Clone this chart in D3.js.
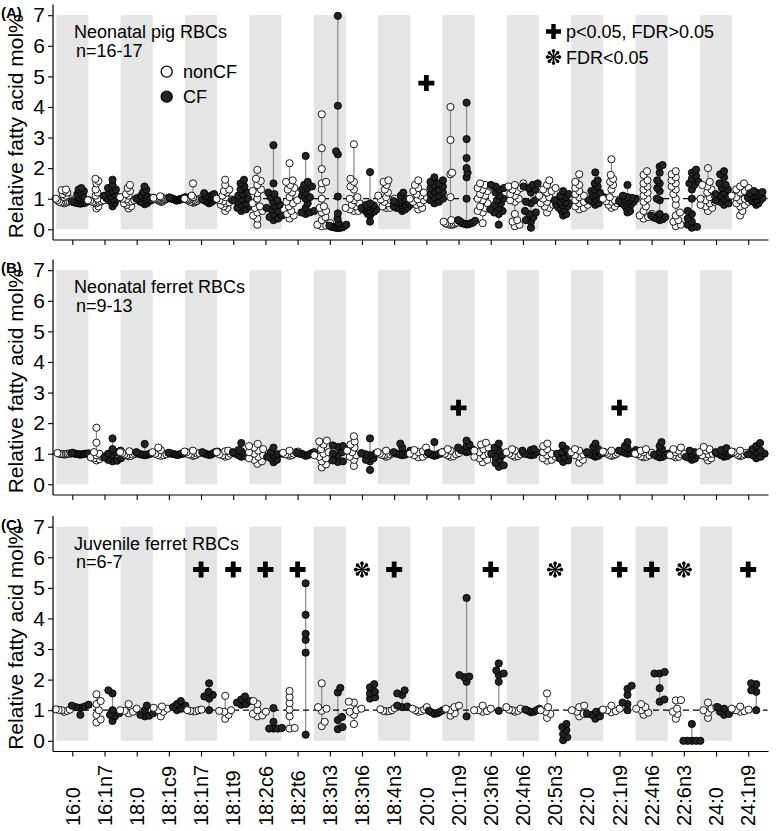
<!DOCTYPE html>
<html><head><meta charset="utf-8">
<script src="https://cdn.jsdelivr.net/npm/d3@7"></script>
<style>body{margin:0;background:#fff} svg{display:block;font-family:"Liberation Sans",Arial,sans-serif}</style>
</head><body><svg id="c" width="778" height="831"></svg>
<script>
const categories = ["16:0","16:1n7","18:0","18:1c9","18:1n7","18:1t9","18:2c6","18:2t6","18:3n3","18:3n6","18:4n3","20:0","20:1n9","20:3n6","20:4n6","20:5n3","22:0","22:1n9","22:4n6","22:6n3","24:0","24:1n9"];
const yTicks = [0,1,2,3,4,5,6,7];
const groups = ["nonCF","CF"];

// Panel A: neonatal pig RBCs
const pigNonCF = [
[1.3,1.28,1.25,1.2,1.15,1.1,1.05,1.0,0.98,0.95,0.92,0.9,0.9,0.88,0.88,0.87,0.85],
[1.65,1.58,1.5,1.3,1.2,1.1,1.0,0.95,0.95,0.93,0.92,0.9,0.9,0.88,0.85,0.75,0.68],
[1.45,1.35,1.25,1.15,1.1,1.05,1.02,1.0,0.98,0.95,0.92,0.9,0.85,0.8,0.75,0.68],
[1.08,1.05,1.04,1.03,1.02,1.0,1.0,0.99,0.98,0.97,0.96,0.95,0.94,0.92,0.9,0.9],
[1.5,1.1,1.05,1.02,1.0,1.0,0.98,0.97,0.96,0.95,0.93,0.92,0.9,0.9,0.88,0.87],
[1.62,1.45,1.3,1.25,1.2,1.1,1.05,1.0,0.98,0.95,0.92,0.88,0.85,0.8,0.75,0.7,0.6],
[1.94,1.65,1.58,1.45,1.3,1.25,1.18,1.0,0.85,0.75,0.7,0.6,0.55,0.45,0.35,0.15],
[2.16,1.6,1.55,1.45,1.35,1.3,1.2,1.05,0.95,0.9,0.85,0.75,0.6,0.5,0.45,0.35],
[3.76,2.65,1.97,1.55,1.5,1.3,1.0,0.75,0.7,0.6,0.55,0.4,0.3,0.2,0.15,0.12,0.1],
[2.78,1.65,1.55,1.4,1.3,1.05,1.0,0.95,0.85,0.8,0.75,0.7,0.65,0.65,0.6,0.6],
[1.6,1.55,1.45,1.3,1.2,1.1,1.05,1.0,0.98,0.95,0.9,0.85,0.8,0.75,0.7,0.7],
[1.6,1.45,1.35,1.25,1.2,1.15,1.1,1.05,1.0,0.98,0.95,0.9,0.85,0.8,0.7,0.65],
[4.0,2.92,1.85,1.8,1.05,0.3,0.28,0.25,0.22,0.2,0.2,0.18,0.17,0.16,0.15,0.15],
[1.5,1.45,1.4,1.35,1.3,1.25,1.15,1.1,1.0,0.95,0.85,0.75,0.7,0.6,0.55,0.2],
[1.5,1.45,1.4,1.35,1.3,1.25,1.15,1.1,1.0,0.95,0.9,0.5,0.3,0.25,0.15,0.1],
[1.6,1.45,1.35,1.3,1.25,1.2,1.1,1.05,1.0,0.95,0.9,0.85,0.8,0.75,0.7,0.55],
[1.8,1.55,1.45,1.35,1.25,1.15,1.1,1.05,1.0,0.95,0.9,0.85,0.8,0.75,0.7,0.65],
[2.29,1.78,1.65,1.55,1.45,1.3,1.05,1.0,0.98,0.95,0.92,0.9,0.85,0.8,0.75,0.7],
[1.9,1.78,1.6,1.5,1.4,1.3,1.2,1.1,1.0,0.9,0.75,0.6,0.5,0.45,0.4,0.35],
[1.9,1.8,1.7,1.6,1.5,1.4,1.3,1.15,1.0,0.8,0.55,0.45,0.3,0.25,0.15,0.1],
[2.0,1.55,1.45,1.4,1.3,1.2,1.1,1.05,1.0,0.95,0.9,0.85,0.8,0.75,0.7,0.6],
[1.5,1.4,1.35,1.3,1.25,1.2,1.1,1.05,1.0,0.95,0.9,0.85,0.8,0.75,0.6,0.45]];
const pigCF = [
[1.35,1.3,1.25,1.2,1.15,1.1,1.05,1.0,0.95,0.92,0.9,0.88,0.87,0.86,0.85,0.85,0.84],
[1.62,1.45,1.35,1.3,1.25,1.2,1.15,1.1,1.08,1.05,1.02,1.0,0.98,0.95,0.9,0.85,0.75],
[1.4,1.3,1.22,1.15,1.1,1.08,1.05,1.03,1.0,1.0,0.98,0.95,0.92,0.9,0.88,0.85,0.82],
[1.05,1.04,1.03,1.02,1.01,1.0,1.0,1.0,0.99,0.99,0.98,0.97,0.96,0.95,0.95,0.94],
[1.18,1.15,1.12,1.1,1.08,1.05,1.03,1.0,1.0,0.98,0.97,0.95,0.93,0.92,0.9,0.88,0.85],
[1.62,1.5,1.4,1.3,1.2,1.15,1.1,1.0,0.98,0.95,0.9,0.85,0.8,0.75,0.7,0.65,0.6],
[2.75,1.5,1.2,1.15,1.05,0.95,0.9,0.8,0.75,0.7,0.65,0.6,0.5,0.45,0.4,0.35,0.3],
[2.4,1.55,1.45,1.4,1.35,1.3,1.2,1.1,1.05,1.0,0.85,0.7,0.6,0.55,0.55,0.5],
[6.98,4.04,2.55,2.45,1.07,0.52,0.35,0.2,0.15,0.12,0.1,0.08,0.07,0.06,0.05,0.05,0.04],
[1.87,0.85,0.8,0.78,0.75,0.72,0.7,0.68,0.65,0.62,0.6,0.58,0.55,0.5,0.45,0.25],
[1.2,1.1,1.0,0.95,0.92,0.9,0.88,0.85,0.82,0.8,0.78,0.75,0.72,0.7,0.68,0.65,0.6],
[1.7,1.6,1.55,1.5,1.45,1.4,1.35,1.3,1.25,1.2,1.15,1.1,1.05,1.0,0.95,0.9,0.85],
[4.14,2.95,2.33,2.0,1.85,1.7,1.0,0.3,0.28,0.25,0.22,0.2,0.2,0.18,0.17,0.16],
[1.45,1.4,1.35,1.3,1.2,1.1,1.0,0.95,0.85,0.8,0.7,0.65,0.6,0.55,0.5,0.15],
[1.5,1.45,1.4,1.35,1.3,1.2,0.95,0.9,0.85,0.6,0.55,0.5,0.4,0.3,0.25,0.05],
[1.25,1.15,1.1,1.05,1.0,0.95,0.9,0.88,0.85,0.8,0.78,0.75,0.7,0.65,0.6,0.5,0.45],
[1.86,1.6,1.5,1.4,1.3,1.25,1.2,1.15,1.1,1.05,1.0,0.98,0.95,0.9,0.85,0.8],
[1.45,1.1,1.05,1.03,1.0,0.98,0.95,0.92,0.9,0.88,0.85,0.82,0.8,0.75,0.7,0.6,0.55],
[2.1,2.05,1.85,1.6,1.5,1.35,1.25,1.0,0.95,0.5,0.45,0.4,0.38,0.35,0.33,0.3],
[1.95,1.85,1.75,1.65,1.55,1.5,1.45,1.3,1.0,0.6,0.5,0.35,0.25,0.15,0.08,0.05],
[1.9,1.8,1.7,1.5,1.45,1.35,1.3,1.2,1.15,1.1,1.05,1.0,0.95,0.9,0.85,0.8],
[1.25,1.22,1.2,1.18,1.15,1.12,1.1,1.08,1.05,1.02,1.0,0.98,0.95,0.92,0.9,0.85,0.8]];

// Panel B: neonatal ferret RBCs
const neoNonCF = [
[1.03,1.02,1.01,1.0,1.0,1.0,0.99,0.99,0.98,0.97],
[1.85,1.36,1.05,1.0,0.95,0.92,0.9,0.88,0.85,0.82,0.78],
[1.08,1.05,1.03,1.02,1.0,0.98,0.97,0.95,0.93,0.92],
[1.2,1.12,1.05,1.02,1.0,0.98,0.96,0.95,0.93],
[1.1,1.07,1.05,1.02,1.0,0.98,0.97,0.95,0.93],
[1.1,1.08,1.05,1.02,1.0,0.98,0.95,0.93,0.9],
[1.32,1.25,1.2,1.15,1.1,1.05,1.0,0.95,0.9,0.85,0.8,0.75,0.67],
[1.1,1.07,1.05,1.03,1.0,0.98,0.97,0.95,0.93],
[1.43,1.4,1.3,1.15,1.05,1.0,0.95,0.9,0.85,0.75,0.65,0.55],
[1.57,1.4,1.3,1.2,1.1,1.05,1.0,0.95,0.9,0.8,0.6],
[1.1,1.05,1.02,1.0,0.98,0.96,0.95,0.93,0.9],
[1.2,1.12,1.08,1.05,1.0,0.98,0.95,0.9,0.88],
[1.15,1.1,1.05,1.02,1.0,0.98,0.95,0.92,0.9],
[1.36,1.3,1.2,1.15,1.1,1.05,1.0,0.95,0.9,0.85,0.8,0.72],
[1.15,1.1,1.05,1.02,1.0,0.98,0.95,0.92,0.9],
[1.33,1.25,1.15,1.05,1.0,0.95,0.9,0.85,0.8,0.77],
[1.15,1.1,1.05,1.0,0.98,0.95,0.9,0.8,0.7],
[1.1,1.07,1.05,1.03,1.0,0.98,0.96,0.95,0.93],
[1.15,1.1,1.05,1.03,1.0,0.98,0.95,0.92,0.9,0.88],
[1.2,1.15,1.1,1.05,1.0,0.98,0.95,0.93,0.9,0.88],
[1.22,1.15,1.1,1.05,1.02,1.0,0.98,0.95,0.9,0.85,0.78],
[1.1,1.07,1.05,1.03,1.0,0.98,0.96,0.94,0.92]];
const neoCF = [
[1.02,1.01,1.01,1.0,1.0,1.0,0.99,0.99,0.98,0.98,0.97],
[1.5,1.15,1.1,1.05,1.0,0.95,0.88,0.85,0.8,0.77,0.75],
[1.32,1.05,1.02,1.0,1.0,0.99,0.98,0.97,0.96,0.95],
[1.03,1.02,1.01,1.0,1.0,0.99,0.98,0.97,0.96],
[1.07,1.06,1.05,1.03,1.02,1.0,0.99,0.98,0.97,0.96],
[1.35,1.12,1.08,1.05,1.02,1.0,0.98,0.95,0.92,0.9],
[1.2,1.05,1.0,0.98,0.95,0.9,0.85,0.8,0.72],
[1.05,1.03,1.02,1.0,1.0,0.99,0.97,0.95,0.93],
[1.27,1.25,1.22,1.05,1.0,0.95,0.78,0.75,0.73],
[1.5,1.02,1.0,0.98,0.95,0.85,0.8,0.75,0.47],
[1.33,1.2,1.1,1.05,1.02,1.0,0.98,0.97,0.95],
[1.38,1.05,1.03,1.0,1.0,0.98,0.97,0.95,0.93],
[1.43,1.3,1.25,1.2,1.15,1.12,1.1,1.08,1.05],
[1.33,1.2,1.1,1.0,0.95,0.9,0.8,0.7,0.62,0.57],
[1.15,1.12,1.1,1.05,1.0,0.98,0.97,0.95],
[1.27,1.15,1.05,1.0,0.95,0.9,0.85,0.78,0.73],
[1.33,1.22,1.15,1.1,1.05,1.0,0.98,0.95,0.93,0.9],
[1.38,1.25,1.18,1.12,1.1,1.08,1.05,1.03,1.02,1.0],
[1.38,1.25,1.15,1.05,1.0,0.97,0.95,0.92,0.9,0.88],
[1.1,1.05,1.0,0.98,0.95,0.9,0.87,0.84,0.8],
[1.18,1.12,1.08,1.05,1.02,1.0,0.98,0.95,0.92,0.9],
[1.35,1.25,1.15,1.1,1.05,1.0,0.98,0.95,0.9,0.85]];

// Panel C: juvenile ferret RBCs
const juvNonCF = [
[1.03,1.02,1.01,1.0,0.98,0.95],
[1.52,1.3,1.2,1.0,0.85,0.7,0.6],
[1.2,1.05,1.0,0.98,0.95,0.9],
[1.12,1.08,1.05,1.0,0.95,0.8],
[1.02,1.0,1.0,0.98,0.97,0.96],
[1.47,1.0,0.98,0.95,0.85,0.72],
[1.3,1.2,1.0,0.95,0.88,0.83,0.8],
[1.63,1.43,1.23,1.02,0.8,0.42,0.4],
[1.88,1.1,1.05,0.98,0.62,0.48],
[1.28,1.25,1.05,1.0,0.95,0.85,0.55],
[1.07,1.03,1.0,0.98,0.97,0.96],
[1.1,1.05,1.02,1.0,0.97,0.95],
[1.15,1.1,1.05,1.0,0.9,0.82],
[1.15,1.05,1.0,1.0,0.97,0.95],
[1.1,1.05,1.02,1.0,0.98,0.95],
[1.55,1.1,1.0,0.95,0.88,0.75],
[1.15,1.1,1.0,0.95,0.88,0.8],
[1.15,1.05,1.02,1.0,0.97,0.93],
[1.2,1.1,1.05,1.0,0.92,0.85],
[1.33,1.32,1.05,0.95,0.88,0.72],
[1.25,1.1,1.05,1.0,0.92,0.75],
[1.12,1.05,1.02,1.0,0.97,0.95]];
const juvCF = [
[1.18,1.15,1.12,1.1,1.08,0.85],
[1.65,1.55,1.0,0.9,0.85,0.8,0.65],
[1.15,1.0,0.9,0.85,0.82,0.8],
[1.3,1.2,1.15,1.1,1.05,1.0],
[1.88,1.6,1.5,1.45,1.38,1.0],
[1.45,1.35,1.3,1.25,1.2,1.18],
[1.07,0.62,0.42,0.4,0.4,0.4],
[5.15,4.12,3.5,3.3,2.88,0.2],
[1.73,1.58,0.78,0.68,0.45,0.38],
[1.85,1.75,1.6,1.55,1.42,1.38],
[1.65,1.55,1.5,1.15,1.12,1.1],
[1.0,0.98,0.95,0.93,0.9,0.88],
[4.67,2.15,2.1,2.08,1.93,0.8],
[2.53,2.3,2.2,2.15,1.93,0.98],
[1.05,1.02,1.0,0.98,0.95,0.93],
[0.55,0.45,0.35,0.22,0.12,0.02],
[0.98,0.95,0.88,0.85,0.8,0.72],
[1.8,1.7,1.5,1.25,1.2,1.0],
[2.25,2.2,2.2,1.72,1.35,1.28],
[0.55,0.0,0.0,0.0,0.0,0.0],
[1.1,1.05,1.0,0.95,0.88,0.85],
[1.88,1.85,1.65,1.6,1.0]];

// significance markers
const pigSig = [{cat:"20:0",type:"plus",v:4.78}];
const neoSig = [{cat:"20:1n9",type:"plus",v:2.5},{cat:"22:1n9",type:"plus",v:2.5}];
const juvSig = [
 {cat:"18:1n7",type:"plus",v:5.6},{cat:"18:1t9",type:"plus",v:5.6},{cat:"18:2c6",type:"plus",v:5.6},
 {cat:"18:2t6",type:"plus",v:5.6},{cat:"18:3n6",type:"star",v:5.6},{cat:"18:4n3",type:"plus",v:5.6},
 {cat:"20:3n6",type:"plus",v:5.6},{cat:"20:5n3",type:"star",v:5.6},{cat:"22:1n9",type:"plus",v:5.6},
 {cat:"22:4n6",type:"plus",v:5.6},{cat:"22:6n3",type:"star",v:5.6},{cat:"24:1n9",type:"plus",v:5.6}];

const panels = [
 {tag:"(A)", title:"Neonatal pig RBCs", n:"n=16-17", top:4.5, nonCF:pigNonCF, CF:pigCF, sig:pigSig, legend:true},
 {tag:"(B)", title:"Neonatal ferret RBCs", n:"n=9-13", top:259.5, nonCF:neoNonCF, CF:neoCF, sig:neoSig},
 {tag:"(C)", title:"Juvenile ferret RBCs", n:"n=6-7", top:516, nonCF:juvNonCF, CF:juvCF, sig:juvSig, labels:true}
];

const svg = d3.select("#c");
const W = {left:53, right:767.5, h:235.5};
const x = d3.scalePoint().domain(categories).range([W.left, W.right]).padding(0.6);
const step = x.step();
const dodge = step*0.25;
const R = 3.6;

function plusPath(s, t){
  return `M${-t},${-s}H${t}V${-t}H${s}V${t}H${t}V${s}H${-t}V${t}H${-s}V${-t}H${-t}Z`;
}
function starPath(sc){
  let d="";
  for(let k=0;k<8;k++){
    const a=k*Math.PI/4;
    const rot=(px,py)=>[px*Math.cos(a)-py*Math.sin(a), px*Math.sin(a)+py*Math.cos(a)];
    const p0=rot(-0.45*sc,-1.2*sc), p3=rot(0.45*sc,-1.2*sc);
    const p1=rot(-1.05*sc,-4.6*sc), p2=rot(1.05*sc,-4.6*sc);
    d+=`M${p0[0]},${p0[1]}L${p1[0]},${p1[1]}A${1.75*sc},${1.75*sc} 0 1,1 ${p2[0]},${p2[1]}L${p3[0]},${p3[1]}Z`;
  }
  d+=`M${-1.3*sc},0A${1.3*sc},${1.3*sc} 0 1,0 ${1.3*sc},0A${1.3*sc},${1.3*sc} 0 1,0 ${-1.3*sc},0Z`;
  return d;
}
function drawMark(g, type, cx, cy, big){
  if(type==="plus") g.append("path").attr("d",plusPath(big?8:7.5, big?2.4:2.2)).attr("transform",`translate(${cx},${cy})`).attr("fill","#000");
  else g.append("path").attr("d",starPath(big?1.05:1.0)).attr("transform",`translate(${cx},${cy})`).attr("fill","#000").attr("fill-rule","nonzero");
}

function swarm(vals, y, D, maxW){
  const pts = vals.map(v=>({v, y:y(v)})).sort((a,b)=>b.y-a.y);
  const placed=[];
  let flip=1;
  for(const p of pts){
    const blocked=[];
    for(const q of placed){const dy=Math.abs(q.y-p.y); if(dy<D){const dx=Math.sqrt(D*D-dy*dy); blocked.push([q.x-dx,q.x+dx]);}}
    const cands=[0]; blocked.forEach(b=>cands.push(b[0],b[1]));
    cands.sort((a,b)=>Math.abs(a)-Math.abs(b) || (flip*(a-b)));
    let xx=0;
    for(const c of cands){ if(!blocked.some(b=>c>b[0]+1e-6&&c<b[1]-1e-6)){xx=c;break;} }
    flip=-flip;
    p.x=xx; placed.push(p);
  }
  const mx=d3.max(placed,p=>Math.abs(p.x));
  if(mx>maxW) placed.forEach(p=>p.x*=maxW/mx);
  return placed;
}

panels.forEach(P=>{
  const g = svg.append("g");
  const y = d3.scaleLinear().domain([-0.35,7.35]).range([P.top+W.h, P.top]);
  categories.forEach((c,i)=>{ if(i%2===0) g.append("rect").attr("x",x(c)-step/2).attr("width",step)
     .attr("y",y(7)).attr("height",y(0)-y(7)).attr("fill","#e5e5e5"); });
  categories.forEach((c,i)=>{
    [[P.nonCF[i],-dodge],[P.CF[i],dodge]].forEach(([vals,off])=>{
      g.append("line").attr("x1",x(c)+off).attr("x2",x(c)+off).attr("y1",y(d3.min(vals))).attr("y2",y(d3.max(vals)))
        .attr("stroke","#8f8f8f").attr("stroke-width",1.3);
    });
  });
  g.append("line").attr("x1",W.left).attr("x2",W.right).attr("y1",y(1)).attr("y2",y(1))
    .attr("stroke","#000").attr("stroke-width",1.3).attr("stroke-dasharray","6,4");
  categories.forEach((c,i)=>{
    [[P.nonCF[i],-dodge,"#ffffff"],[P.CF[i],dodge,"#232323"]].forEach(([vals,off,fill])=>{
      swarm(vals,y,5.2,8.5).forEach(p=>{
        g.append("circle").attr("cx",x(c)+off+p.x).attr("cy",p.y).attr("r",R)
          .attr("fill",fill).attr("stroke","#000").attr("stroke-width",0.9);
      });
    });
  });
  const ya = d3.axisLeft(y).tickValues(yTicks).tickSize(5).tickPadding(3).tickFormat(d3.format("d"));
  const yg = g.append("g").attr("transform",`translate(${W.left},0)`).call(ya);
  yg.select(".domain").attr("d",`M0,${P.top}V${P.top+W.h}`).attr("stroke","#000").attr("stroke-width",1.2);
  yg.selectAll(".tick line").attr("stroke","#000").attr("stroke-width",1.1);
  yg.selectAll(".tick text").attr("font-size",21).attr("fill","#000").attr("font-family","Liberation Sans, Arial, sans-serif");
  const xa = d3.axisBottom(x).tickSize(5).tickFormat("");
  const xg = g.append("g").attr("transform",`translate(0,${P.top+W.h})`).call(xa);
  xg.select(".domain").attr("d",`M${W.left},0H${W.right+1}`).attr("stroke","#000").attr("stroke-width",1.2);
  xg.selectAll(".tick line").attr("stroke","#000").attr("stroke-width",1.1);
  if(P.labels){
    categories.forEach(c=>{
      g.append("text").attr("transform",`translate(${x(c)},826) rotate(-90)`).attr("dy","0.36em")
        .attr("text-anchor","start").attr("font-size",20).attr("fill","#000").text(c);
    });
  }
  g.append("text").attr("transform",`translate(23,${P.top+W.h/2+4}) rotate(-90)`).attr("text-anchor","middle")
    .attr("font-size",21).attr("fill","#000").text("Relative fatty acid mol%");
  g.append("text").attr("x",1).attr("y",P.top+13.5).attr("font-size",15).attr("font-weight","bold").text(P.tag);
  g.append("text").attr("x",74).attr("y",P.top+33.5).attr("font-size",18).text(P.title);
  g.append("text").attr("x",76).attr("y",P.top+52).attr("font-size",18).text(P.n);
  P.sig.forEach(s=>drawMark(g,s.type,x(s.cat),y(s.v),true));
  if(P.legend){
    [["nonCF","#ffffff",71.7],["CF","#232323",96.7]].forEach(([lab,fill,cy])=>{
      g.append("circle").attr("cx",166.7).attr("cy",cy).attr("r",5.5).attr("fill",fill).attr("stroke","#000").attr("stroke-width",1.3);
      g.append("text").attr("x",183).attr("y",cy+6.5).attr("font-size",18).text(lab);
    });
    drawMark(g,"plus",553.5,31.5,false);
    g.append("text").attr("x",566).attr("y",38).attr("font-size",18).text("p<0.05, FDR>0.05");
    drawMark(g,"star",553.5,57,false);
    g.append("text").attr("x",566).attr("y",63.5).attr("font-size",18).text("FDR<0.05");
  }
});
</script></body></html>
